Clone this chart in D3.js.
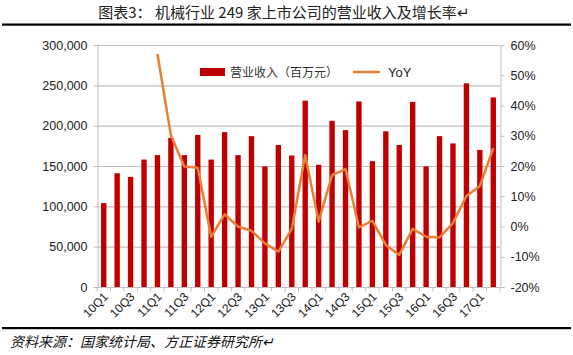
<!DOCTYPE html>
<html>
<head>
<meta charset="utf-8">
<script src="https://cdn.jsdelivr.net/npm/d3@7"></script>
<style>
  body { margin: 0; background: #fff; }
  svg { display: block; }
  .tick text { font-family: Arial, "Liberation Sans", sans-serif; }
</style>
</head>
<body>
<svg id="chart" width="573" height="355"></svg>
<script>
const quarters = [
  "10Q1", "10Q2", "10Q3", "10Q4", "11Q1", "11Q2", "11Q3", "11Q4",
  "12Q1", "12Q2", "12Q3", "12Q4", "13Q1", "13Q2", "13Q3", "13Q4",
  "14Q1", "14Q2", "14Q3", "14Q4", "15Q1", "15Q2", "15Q3", "15Q4",
  "16Q1", "16Q2", "16Q3", "16Q4", "17Q1", "17Q2",
];
const revenue = [
  104000, 141000, 136500, 158000, 163500, 185000, 163500, 188500,
  158000, 192000, 163500, 187000, 149500, 176000, 163000, 231000,
  151500, 206000, 194500, 230000, 156000, 193000, 176000, 229500,
  149500, 187000, 178000, 252500, 170000, 235000,
];
// YoY starts at 11Q1
const yoy = [
  null, null, null, null, 57.0, 30.2, 19.8, 19.4,
  -3.4, 4.0, 0.0, -1.4, -5.6, -8.3, -0.8, 23.6,
  1.6, 17.0, 19.0, -0.3, 1.9, -6.1, -9.4, -0.8,
  -3.4, -3.6, 1.1, 10.1, 13.4, 25.9,
];
const leftTicks = [0, 50000, 100000, 150000, 200000, 250000, 300000];
const rightTicks = [-20, -10, 0, 10, 20, 30, 40, 50, 60];

const barColor = "#C00000";
const lineColor = "#ED7D31";
const gridColor = "#BFBFBF";

const svg = d3.select("#chart");
const plot = { left: 97, right: 500, top: 45, bottom: 287 };

// title + rules
svg.append("text")
  .attr("x", 284).attr("y", 18)
  .attr("text-anchor", "middle")
  .attr("font-family", "'Noto Sans CJK SC', sans-serif")
  .attr("font-size", 15)
  .attr("fill", "#222")
  .text("图表3：  机械行业 249 家上市公司的营业收入及增长率↵");
svg.append("rect").attr("x", 2).attr("y", 23.5).attr("width", 569).attr("height", 2.2).attr("fill", "#000");
svg.append("rect").attr("x", 2).attr("y", 327).attr("width", 569).attr("height", 2.2).attr("fill", "#000");
svg.append("text")
  .attr("x", 10).attr("y", 347)
  .attr("font-family", "'Noto Sans CJK SC', sans-serif")
  .attr("font-size", 14)
  .attr("font-style", "italic")
  .attr("transform", "skewX(0)")
  .attr("fill", "#111")
  .text("资料来源：国家统计局、方正证券研究所↵");

// scales
const x = d3.scaleBand().domain(quarters).range([plot.left, plot.right]).paddingInner(0.6).paddingOuter(0.3);
const xPos = d3.scaleBand().domain(quarters).range([plot.left, plot.right]);
const y = d3.scaleLinear().domain([0, 300000]).range([plot.bottom, plot.top]);
const y2 = d3.scaleLinear().domain([-20, 60]).range([plot.bottom, plot.top]);

// gridlines
svg.append("g")
  .selectAll("line")
  .data(leftTicks.slice(1))
  .join("line")
  .attr("x1", plot.left).attr("x2", plot.right)
  .attr("y1", (d) => y(d) + 0.5).attr("y2", (d) => y(d) + 0.5)
  .attr("stroke", gridColor).attr("stroke-width", 1.2);

// left axis
const yAxis = svg.append("g")
  .attr("transform", `translate(${plot.left + 0.5},0)`)
  .call(d3.axisLeft(y).tickValues(leftTicks).tickFormat(d3.format(",")).tickSize(4).tickPadding(6));
yAxis.selectAll("text").attr("font-size", 12.5).attr("fill", "#222");
yAxis.selectAll("line, path").attr("stroke", gridColor);

// right axis
const y2Axis = svg.append("g")
  .attr("transform", `translate(${plot.right + 0.5},0)`)
  .call(d3.axisRight(y2).tickValues(rightTicks).tickFormat((d) => d + "%").tickSize(4).tickPadding(6));
y2Axis.selectAll("text").attr("font-size", 12.5).attr("fill", "#222");
y2Axis.selectAll("line, path").attr("stroke", gridColor);

// bars
svg.append("g")
  .selectAll("rect")
  .data(revenue)
  .join("rect")
  .attr("x", (d, i) => x(quarters[i]))
  .attr("width", x.bandwidth())
  .attr("y", (d) => y(d))
  .attr("height", (d) => y(0) - y(d))
  .attr("fill", barColor);

// bottom axis
const xAxis = svg.append("g")
  .attr("transform", `translate(0,${plot.bottom + 0.5})`);
xAxis.append("line")
  .attr("x1", plot.left).attr("x2", plot.right)
  .attr("stroke", gridColor);
xAxis.selectAll(".xt")
  .data(d3.range(quarters.length + 1))
  .join("line")
  .attr("class", "xt")
  .attr("x1", (i) => plot.left + i * xPos.step())
  .attr("x2", (i) => plot.left + i * xPos.step())
  .attr("y1", 0).attr("y2", 4)
  .attr("stroke", gridColor);
xAxis.selectAll(".xl")
  .data(quarters.filter((q, i) => i % 2 === 0))
  .join("text")
  .attr("class", "xl")
  .attr("text-anchor", "end")
  .attr("font-family", "Arial, 'Liberation Sans', sans-serif")
  .attr("font-size", 12)
  .attr("fill", "#222")
  .attr("transform", (d) => `translate(${xPos(d) + xPos.bandwidth() / 2 + 5},${10}) rotate(-45)`)
  .text((d) => d);

// YoY line
const line = d3.line()
  .defined((d) => d != null)
  .x((d, i) => xPos(quarters[i]) + xPos.bandwidth() / 2)
  .y((d) => y2(d));
svg.append("path")
  .datum(yoy)
  .attr("d", line)
  .attr("fill", "none")
  .attr("stroke", lineColor)
  .attr("stroke-width", 2.5)
  .attr("stroke-linejoin", "round");

// legend
const legend = svg.append("g").attr("transform", "translate(200,72)");
legend.append("rect").attr("x", 0).attr("y", -4).attr("width", 25).attr("height", 8).attr("fill", barColor);
legend.append("text")
  .attr("x", 30).attr("y", 5)
  .attr("font-family", "'Noto Sans CJK SC', sans-serif")
  .attr("font-size", 12)
  .attr("fill", "#333")
  .text("营业收入（百万元）");
legend.append("line").attr("x1", 153).attr("x2", 180).attr("y1", 0).attr("y2", 0)
  .attr("stroke", lineColor).attr("stroke-width", 2.5);
legend.append("text")
  .attr("x", 188).attr("y", 5)
  .attr("font-family", "Arial, 'Liberation Sans', sans-serif")
  .attr("font-size", 13)
  .attr("fill", "#222")
  .text("YoY");
</script>
</body>
</html>
